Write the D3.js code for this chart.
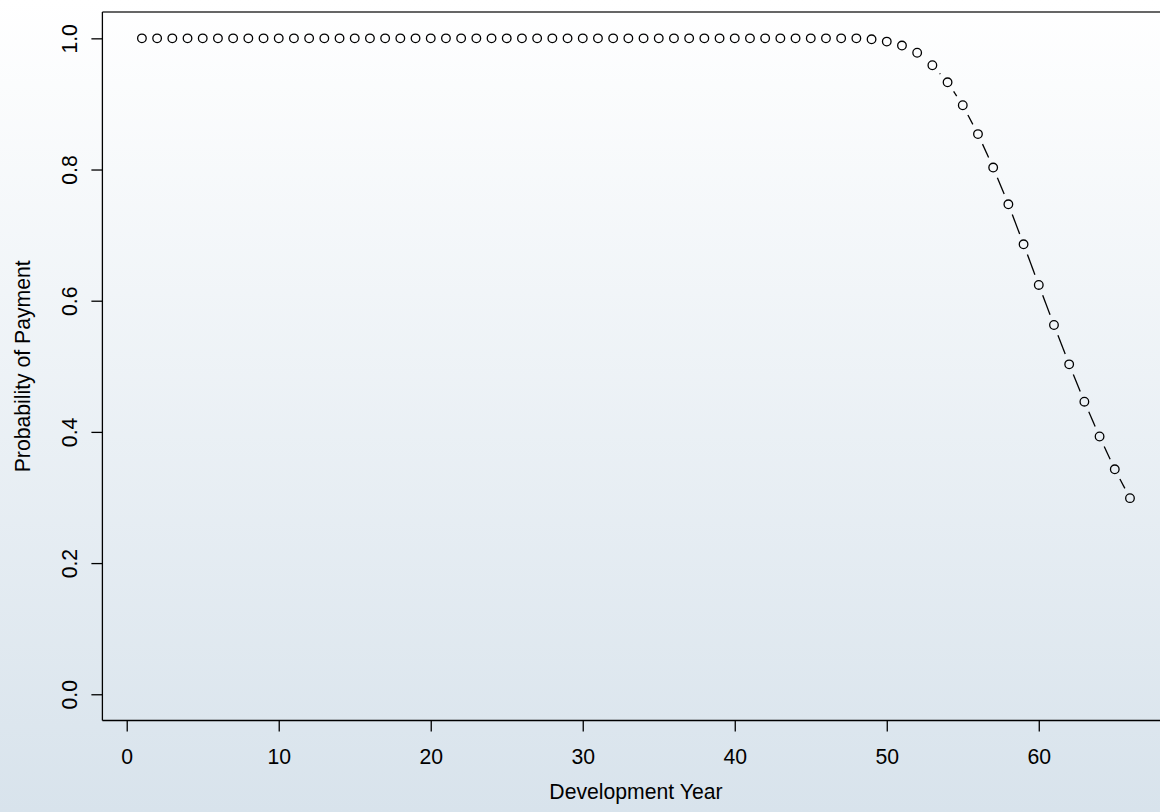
<!DOCTYPE html>
<html>
<head>
<meta charset="utf-8">
<script src="https://cdn.jsdelivr.net/npm/d3@7"></script>
<style>
  body { margin: 0; padding: 0; overflow: hidden; }
  text { font-family: "Liberation Sans", Arial, sans-serif; font-size: 21.2px; fill: #000; }
</style>
</head>
<body>
<div id="viz"></div>
<script>
// probability of payment by development year (years 1..66)
var probs = [
  1, 1, 1, 1, 1, 1, 1, 1, 1, 1,
  1, 1, 1, 1, 1, 1, 1, 1, 1, 1,
  1, 1, 1, 1, 1, 1, 1, 1, 1, 1,
  1, 1, 1, 1, 1, 1, 1, 1, 1, 1,
  1, 1, 1, 1, 1, 1, 1, 1, 0.9985, 0.995,
  0.989, 0.978, 0.959, 0.933, 0.898, 0.854, 0.803, 0.747, 0.686, 0.624,
  0.563, 0.503, 0.446, 0.393, 0.343, 0.299
];
var xTicks = [0, 10, 20, 30, 40, 50, 60];
var yTicks = [0, 0.2, 0.4, 0.6, 0.8, 1.0];

var data = probs.map(function(p, i) { return {year: i + 1, p: p}; });

var W = 1160, H = 812;
var fontSize = '21.2px';
var svg = d3.select('#viz').append('svg')
  .attr('width', W).attr('height', H);

// background gradient
var grad = svg.append('defs').append('linearGradient')
  .attr('id', 'bg').attr('x1', 0).attr('y1', 0).attr('x2', 0).attr('y2', 1);
grad.append('stop').attr('offset', '0%').attr('stop-color', '#ffffff');
grad.append('stop').attr('offset', '100%').attr('stop-color', '#d8e3ec');
svg.append('rect').attr('width', W).attr('height', H).attr('fill', 'url(#bg)');

var x = d3.scaleLinear().domain([-1.6, 68.6]).range([102.4, 1169.5]);
var y = d3.scaleLinear().domain([-0.04, 1.04]).range([720.5, 12.1]);

// plot box (right side runs off the page)
svg.append('line').attr('x1', x(-1.6)).attr('x2', x(68.6)).attr('y1', y(1.04)).attr('y2', y(1.04))
  .attr('stroke', '#333').attr('stroke-width', 1.5);
svg.append('line').attr('x1', x(-1.6)).attr('x2', x(-1.6)).attr('y1', y(1.04)).attr('y2', y(-0.04))
  .attr('stroke', '#000').attr('stroke-width', 1.3);
svg.append('line').attr('x1', x(-1.6)).attr('x2', x(68.6)).attr('y1', y(-0.04)).attr('y2', y(-0.04))
  .attr('stroke', '#000').attr('stroke-width', 1.3);

// x axis
var xAxis = svg.append('g')
  .attr('transform', 'translate(0,' + y(-0.04) + ')')
  .call(d3.axisBottom(x).tickValues(xTicks).tickSize(11).tickPadding(17).tickSizeOuter(0));
xAxis.select('.domain').remove();
xAxis.selectAll('.tick line').attr('stroke', '#000').attr('stroke-width', 1.3);
xAxis.selectAll('text').style('font-size', fontSize).style('font-family', '"Liberation Sans", Arial, sans-serif');

// y axis, labels parallel to the axis
var yAxis = svg.append('g')
  .attr('transform', 'translate(' + x(-1.6) + ',0)')
  .call(d3.axisLeft(y).tickValues(yTicks).tickSize(11).tickFormat(d3.format('.1f')).tickSizeOuter(0));
yAxis.select('.domain').remove();
yAxis.selectAll('.tick line').attr('stroke', '#000').attr('stroke-width', 1.3);
yAxis.selectAll('.tick text')
  .attr('x', null).attr('dy', null)
  .attr('text-anchor', 'middle')
  .attr('transform', 'translate(-25.5,0) rotate(-90)')
  .style('font-size', fontSize).style('font-family', '"Liberation Sans", Arial, sans-serif');

// axis titles
svg.append('text').attr('x', x(33.5)).attr('y', 798.5).attr('text-anchor', 'middle')
  .text('Development Year');
svg.append('text').attr('text-anchor', 'middle')
  .attr('transform', 'translate(29.5,' + y(0.5) + ') rotate(-90)')
  .text('Probability of Payment');

// type = "b" dashed connecting segments with gaps around points
var gap = 11;
var segs = [];
for (var i = 0; i < data.length - 1; i++) {
  var x1 = x(data[i].year), y1 = y(data[i].p);
  var x2 = x(data[i + 1].year), y2 = y(data[i + 1].p);
  var len = Math.sqrt((x2 - x1) * (x2 - x1) + (y2 - y1) * (y2 - y1));
  if (len > 2 * gap) {
    var ux = (x2 - x1) / len, uy = (y2 - y1) / len;
    segs.push({x1: x1 + ux * gap, y1: y1 + uy * gap, x2: x2 - ux * gap, y2: y2 - uy * gap});
  }
}
svg.selectAll('.seg')
  .data(segs)
.enter().append('line')
  .attr('class', 'seg')
  .attr('x1', function(d) { return d.x1; })
  .attr('y1', function(d) { return d.y1; })
  .attr('x2', function(d) { return d.x2; })
  .attr('y2', function(d) { return d.y2; })
  .attr('stroke', '#000')
  .attr('stroke-width', 1.3)
  .attr('stroke-dasharray', '22,22');

svg.selectAll('.pt')
  .data(data)
.enter().append('circle')
  .attr('class', 'pt')
  .attr('cx', function(d) { return x(d.year); })
  .attr('cy', function(d) { return y(d.p); })
  .attr('r', 4.3)
  .attr('fill', 'none')
  .attr('stroke', '#000')
  .attr('stroke-width', 1.3);
</script>
</body>
</html>
